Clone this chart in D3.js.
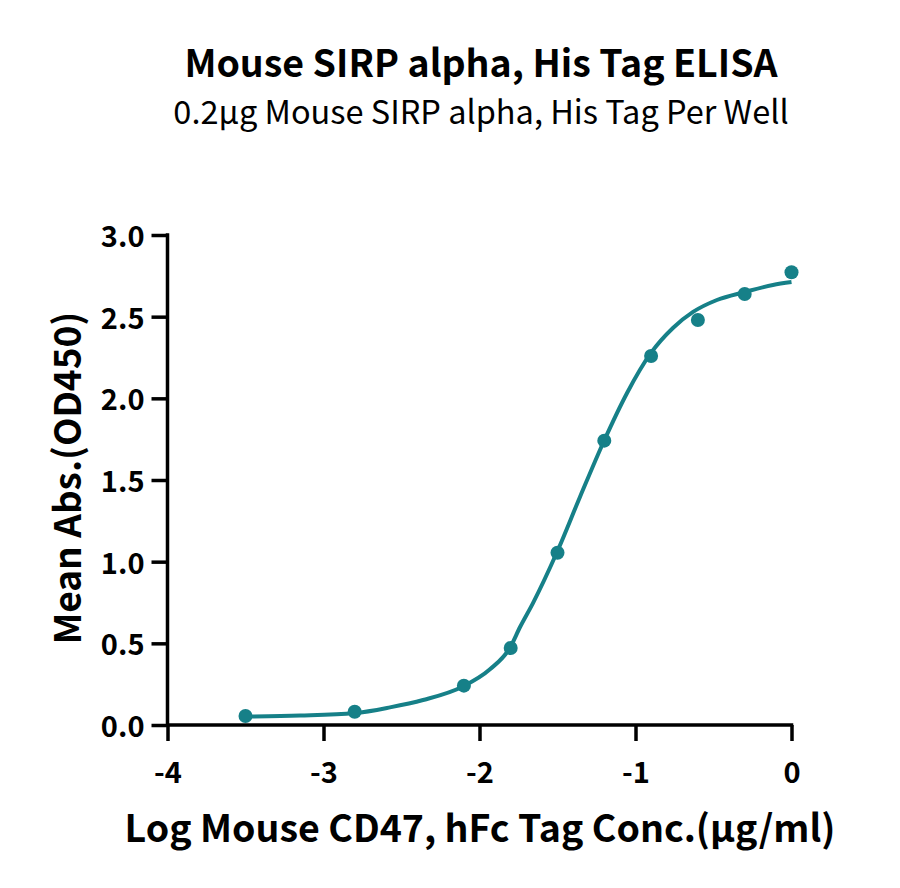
<!DOCTYPE html>
<html>
<head>
<meta charset="utf-8">
<script src="https://cdn.jsdelivr.net/npm/d3@7/dist/d3.min.js"></script>
<style>
  html, body { margin: 0; padding: 0; background: #fff; }
  svg { display: block; }
  text { font-family: "Noto Sans CJK SC", "Noto Sans", sans-serif; fill: #000; }
</style>
</head>
<body>
<svg id="chart" width="900" height="888"></svg>
<script>
// ---- Data ----
const titleText = "Mouse SIRP alpha, His Tag ELISA";
const subtitleText = "0.2\u03bcg Mouse SIRP alpha, His Tag Per Well";
const xLabel = "Log Mouse CD47, hFc Tag Conc.(\u03bcg/ml)";
const yLabel = "Mean Abs.(OD450)";

const logConc = [-3.5, -2.8, -2.1, -1.8, -1.5, -1.2, -0.9, -0.6, -0.3, 0];
const meanAbs = [0.055, 0.081, 0.241, 0.471, 1.055, 1.741, 2.259, 2.480, 2.639, 2.772];

// fitted curve
const curveX = [-3.5, -3.15, -2.8, -2.574, -2.362, -2.106, -1.933, -1.804, -1.74, -1.658, -1.503, -1.356, -1.202, -1.054, -0.901, -0.760, -0.631, -0.478, -0.298, -0.119, 0];
const curveY = [0.052, 0.058, 0.073, 0.108, 0.153, 0.236, 0.341, 0.474, 0.60, 0.745, 1.059, 1.396, 1.739, 2.033, 2.278, 2.431, 2.529, 2.602, 2.651, 2.694, 2.712];

const xTicks = [-4, -3, -2, -1, 0];
const yTicks = [0, 0.5, 1.0, 1.5, 2.0, 2.5, 3.0];

const teal = "#168088";

// ---- Layout ----
const svg = d3.select("#chart");
const x = d3.scaleLinear().domain([-4, 0]).range([167.5, 791.5]);
const y = d3.scaleLinear().domain([0, 3]).range([725, 235]);

// Titles
svg.append("text")
  .attr("x", 481).attr("y", 77)
  .attr("text-anchor", "middle")
  .attr("font-size", 37.5).attr("font-weight", 700)
  .text(titleText);
svg.append("text")
  .attr("x", 481).attr("y", 124)
  .attr("text-anchor", "middle")
  .attr("font-size", 32.5).attr("font-weight", 400)
  .text(subtitleText);

// Axes
const xAxis = d3.axisBottom(x).tickValues(xTicks).tickSize(16).tickPadding(8)
  .tickFormat(d3.format("d"));
const yAxis = d3.axisLeft(y).tickValues(yTicks).tickSize(16).tickPadding(7)
  .tickFormat(d3.format(".1f"));

const gx = svg.append("g").attr("transform", `translate(0,${y(0)})`).call(xAxis);
const gy = svg.append("g").attr("transform", `translate(${x(-4)},0)`).call(yAxis);

[gx, gy].forEach(g => {
  g.select(".domain").remove();
  g.selectAll(".tick line").attr("stroke", "#000").attr("stroke-width", 3.5);
  g.selectAll(".tick text")
    .attr("font-family", "\"Noto Sans CJK SC\", \"Noto Sans\", sans-serif")
    .attr("font-size", 29).attr("font-weight", 700).attr("fill", "#000");
});
gx.selectAll(".tick text")
  .text(d => d === 0 ? "0" : String(d).replace("\u2212", "-"))
  .attr("y", 58).attr("dy", null);
gy.selectAll(".tick text").attr("dy", "0.4em");

// Axis lines
svg.append("line")
  .attr("x1", x(-4)).attr("x2", x(0) + 1.75)
  .attr("y1", y(0)).attr("y2", y(0))
  .attr("stroke", "#000").attr("stroke-width", 3.5);
svg.append("line")
  .attr("x1", x(-4)).attr("x2", x(-4))
  .attr("y1", y(0) + 1.75).attr("y2", y(3) - 1.75)
  .attr("stroke", "#000").attr("stroke-width", 3.5);

// Axis titles
svg.append("text")
  .attr("x", 480).attr("y", 842)
  .attr("text-anchor", "middle")
  .attr("font-size", 37.5).attr("font-weight", 700)
  .text(xLabel);
svg.append("text")
  .attr("transform", `translate(81,478) rotate(-90)`)
  .attr("text-anchor", "middle")
  .attr("font-size", 37).attr("font-weight", 700)
  .text(yLabel);

// Curve
const curvePts = curveX.map((v, i) => [v, curveY[i]]);
svg.append("path")
  .datum(curvePts)
  .attr("fill", "none")
  .attr("stroke", teal)
  .attr("stroke-width", 4)
  .attr("d", d3.line().x(d => x(d[0])).y(d => y(d[1])).curve(d3.curveMonotoneX));

// Points
svg.append("g").selectAll("circle")
  .data(logConc.map((v, i) => [v, meanAbs[i]]))
  .join("circle")
  .attr("cx", d => x(d[0]))
  .attr("cy", d => y(d[1]))
  .attr("r", 7)
  .attr("fill", teal);
</script>
</body>
</html>
